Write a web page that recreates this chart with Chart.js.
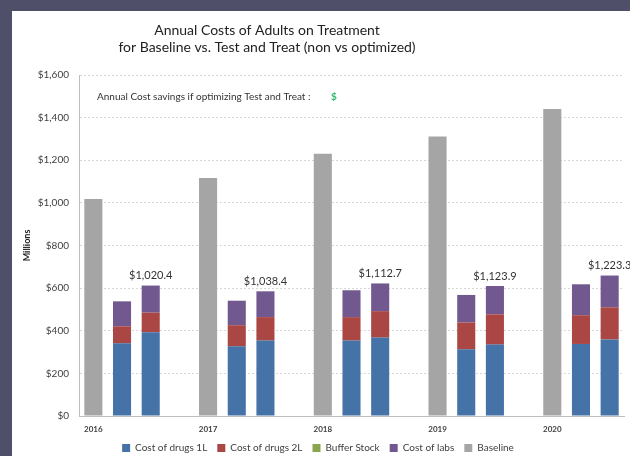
<!DOCTYPE html>
<html>
<head>
<meta charset="utf-8">
<script src="https://cdn.jsdelivr.net/npm/chart.js@4.4.1/dist/chart.umd.min.js"></script>
<style>
  html, body { margin: 0; padding: 0; background: #4f4f6a; width: 630px; height: 456px; overflow: hidden; }
  #wrap { position: absolute; left: 12px; top: 11px; width: 618px; height: 445px; background: #fff; overflow: hidden; }
</style>
</head>
<body>
<div id="wrap"><canvas id="costChart" width="618" height="452"></canvas></div>
<script>
// Datos (millones de USD)
const years = ['2016', '2017', '2018', '2019', '2020'];
const baseline = [1018, 1117, 1230, 1312, 1441];
const drugs1LNon = [341, 327, 354, 313, 338];
const drugs1LOpt = [393, 354, 368, 335, 359];
const drugs2LNon = [80, 99, 110, 126, 135];
const drugs2LOpt = [92, 110, 124, 142, 151];
const bufferNon = [0, 0, 0, 0, 0];
const bufferOpt = [0, 0, 0, 0, 0];
const labsNon = [117, 115, 126, 129, 145];
const labsOpt = [127, 121, 130, 133, 149];
const totalLabels = ['$1,020.4', '$1,038.4', '$1,112.7', '$1,123.9', '$1,223.3'];
const yTicks = [0, 200, 400, 600, 800, 1000, 1200, 1400, 1600];

// 4 huecos por año: línea base, no optimizado, optimizado, separación
const labels = [];
years.forEach((y, i) => {
    labels.push(y, '', '');
    if (i < years.length - 1) labels.push('');
});

function spread(base, non, opt) {
    const out = [];
    years.forEach((y, i) => {
        out.push(base ? base[i] : null, non ? non[i] : null, opt ? opt[i] : null);
        if (i < years.length - 1) out.push(null);
    });
    return out;
}

const FONT = 'Lato, "Open Sans", sans-serif';
const TEXT = '#404040';

// Textos extra: título, nota de ahorro y totales sobre barras optimizadas
const extraText = {
    id: 'extraText',
    afterDraw(chart) {
        const ctx = chart.ctx;
        const area = chart.chartArea;
        const x = chart.scales.x;
        const y = chart.scales.y;
        ctx.save();
        ctx.textAlign = 'center';
        ctx.textBaseline = 'middle';
        ctx.fillStyle = '#222';
        ctx.font = '14px ' + FONT;
        ctx.fillText('Annual Costs of Adults on Treatment', area.left + 188, 19);
        ctx.fillText('for Baseline vs. Test and Treat (non vs optimized)', area.left + 188, 36);

        ctx.textAlign = 'left';
        ctx.font = '10px ' + FONT;
        ctx.fillStyle = '#333';
        ctx.fillText('Annual Cost savings if optimizing Test and Treat :', area.left + 18, y.getPixelForValue(1500));
        ctx.fillStyle = '#2db86e';
        ctx.font = 'bold 10px ' + FONT;
        ctx.fillText('$', area.left + 252, y.getPixelForValue(1500));

        ctx.textAlign = 'center';
        ctx.font = '11px ' + FONT;
        ctx.fillStyle = '#333';
        years.forEach((yr, i) => {
            const top = drugs1LOpt[i] + drugs2LOpt[i] + bufferOpt[i] + labsOpt[i];
            ctx.fillText(totalLabels[i], x.getPixelForValue(i * 4 + 2), y.getPixelForValue(top) - 10);
        });
        ctx.restore();
    }
};

const common = { barPercentage: 0.63, categoryPercentage: 1, stack: 's' };

new Chart(document.getElementById('costChart'), {
    type: 'bar',
    data: {
        labels: labels,
        datasets: [
            Object.assign({ label: 'Cost of drugs 1L', data: spread(null, drugs1LNon, drugs1LOpt), backgroundColor: '#4572a7' }, common),
            Object.assign({ label: 'Cost of drugs 2L', data: spread(null, drugs2LNon, drugs2LOpt), backgroundColor: '#aa4643' }, common),
            Object.assign({ label: 'Buffer Stock', data: spread(null, bufferNon, bufferOpt), backgroundColor: '#89a54e' }, common),
            Object.assign({ label: 'Cost of labs', data: spread(null, labsNon, labsOpt), backgroundColor: '#71588f' }, common),
            Object.assign({ label: 'Baseline', data: spread(baseline, null, null), backgroundColor: '#a5a5a5' }, common)
        ]
    },
    options: {
        responsive: false,
        animation: false,
        devicePixelRatio: 1,
        layout: { padding: { top: 64, right: 6, left: 0, bottom: 0 } },
        plugins: {
            legend: {
                position: 'bottom',
                labels: {
                    boxWidth: 8, boxHeight: 8, padding: 10,
                    color: TEXT, font: { size: 10, family: FONT }
                }
            },
            tooltip: { enabled: false },
            title: { display: false }
        },
        scales: {
            x: {
                stacked: true,
                grid: { display: false },
                border: { color: '#bfbfbf' },
                afterFit: function (s) { s.height = 17; },
                ticks: {
                    autoSkip: false, maxRotation: 0, color: TEXT, padding: 1,
                    font: { size: 8, weight: 'bold', family: FONT },
                    callback: function (v) { return labels[v]; }
                }
            },
            y: {
                stacked: true,
                min: 0, max: 1600,
                afterBuildTicks: function (s) { s.ticks = yTicks.map(v => ({ value: v })); },
                afterFit: function (s) { s.width = 67; },
                grid: { color: '#d6d6d6', drawTicks: false },
                border: { color: '#bfbfbf', dash: [2, 2] },
                ticks: {
                    color: TEXT, padding: 10,
                    font: { size: 10, family: FONT },
                    callback: function (v) { return '$' + v.toLocaleString('en-US'); }
                },
                title: {
                    display: true, text: 'Millions', color: '#222',
                    font: { size: 9, weight: 'bold', family: FONT }, padding: { top: 10, bottom: 0 }
                }
            }
        }
    },
    plugins: [extraText]
});
</script>
</body>
</html>
